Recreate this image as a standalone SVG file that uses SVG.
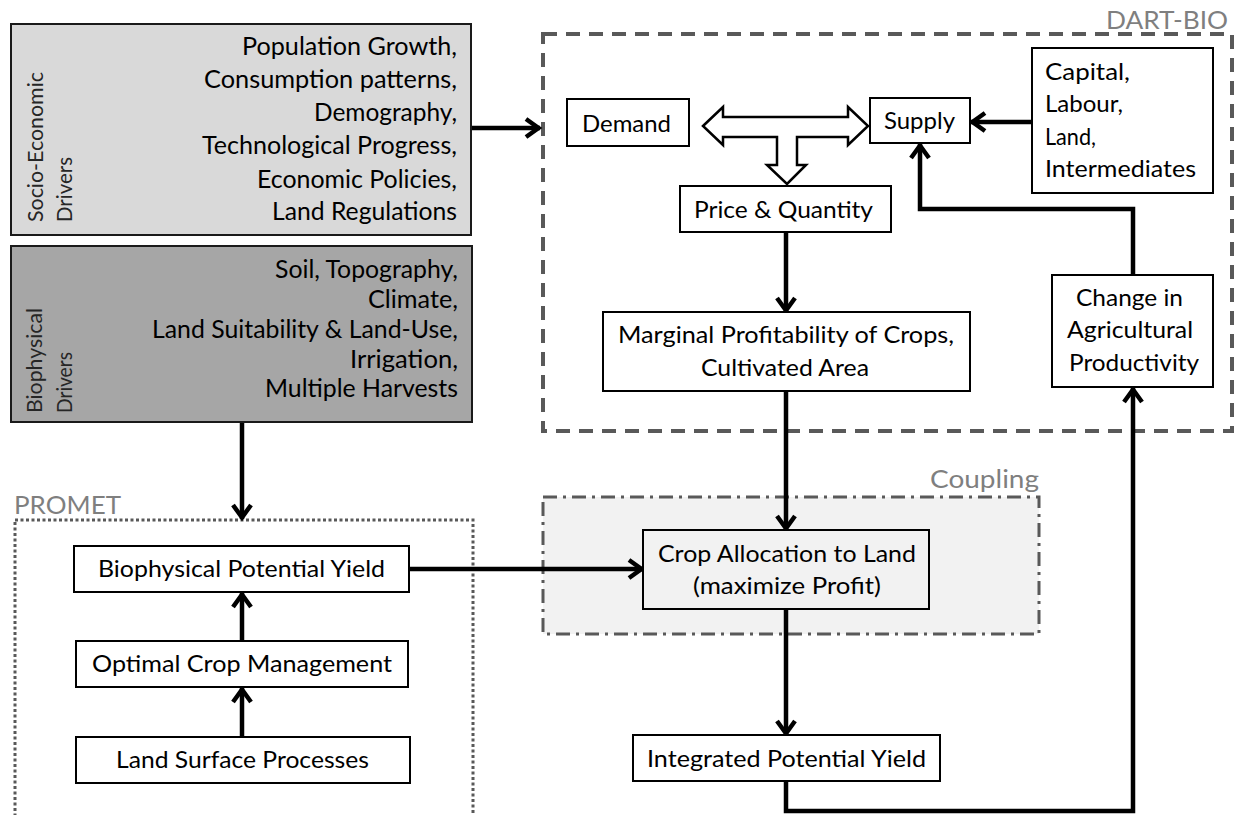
<svg xmlns="http://www.w3.org/2000/svg" width="1237" height="815" viewBox="0 0 1237 815">
<style>
text{font-family:Lato,"Open Sans","Liberation Sans",sans-serif;fill:#000}
.t{font-size:24px}
.l{font-size:25px}
.v{font-size:21px;fill:#262626}
.g{font-size:25px;fill:#7f7f7f}
.box{fill:#fff;stroke:#000;stroke-width:2}
.con{fill:none;stroke:#000;stroke-width:4.5;stroke-linejoin:miter}
</style>
<defs>
<marker id="ah" markerUnits="userSpaceOnUse" orient="auto" markerWidth="40" markerHeight="40" viewBox="-20 -20 40 40" refX="0" refY="0" overflow="visible">
<path d="M-14,-9 L-1.5,0 L-14,9" fill="none" stroke="#000" stroke-width="4.5"/>
</marker>
</defs>
<rect width="1237" height="815" fill="#fff"/>

<g id="dart-bio">
<rect x="543" y="34" width="689" height="397" fill="none" stroke="#595959" stroke-width="4" stroke-dasharray="14 9"/>
<text class="g" x="1106" y="29" textLength="122" lengthAdjust="spacingAndGlyphs">DART-BIO</text>
</g>
<g id="coupling">
<rect x="543" y="497" width="496" height="137" fill="#f2f2f2" stroke="#595959" stroke-width="3" stroke-dasharray="14 6 3 6"/>
<text class="g" x="930" y="488" textLength="109" lengthAdjust="spacingAndGlyphs">Coupling</text>
</g>
<g id="promet">
<rect x="15" y="520" width="458" height="320" fill="none" stroke="#595959" stroke-width="3" stroke-dasharray="3 2.5"/>
<text class="g" x="14" y="514" textLength="107" lengthAdjust="spacingAndGlyphs">PROMET</text>
</g>

<g id="connectors">
<path class="con" d="M471,128 L540,128" marker-end="url(#ah)"/>
<path class="con" d="M1032,122 L971,122" marker-end="url(#ah)"/>
<path class="con" d="M786,232 L786,312" marker-end="url(#ah)"/>
<path class="con" d="M786,391 L786,530" marker-end="url(#ah)"/>
<path class="con" d="M786,609 L786,735" marker-end="url(#ah)"/>
<path class="con" d="M786,781 L786,811 L1133,811 L1133,388" marker-end="url(#ah)"/>
<path class="con" d="M1133,275 L1133,209 L920,209 L920,144" marker-end="url(#ah)"/>
<path class="con" d="M242,423 L242,519" marker-end="url(#ah)"/>
<path class="con" d="M409,569 L643,569" marker-end="url(#ah)"/>
<path class="con" d="M242,641 L242,593" marker-end="url(#ah)"/>
<path class="con" d="M242,737 L242,688" marker-end="url(#ah)"/>
<polygon points="703,126 723,107 723,117 848,117 848,107 868,126 848,145 848,137 797,137 797,165 806,165 787,184 767,165 777,165 777,137 723,137 723,145" fill="#fff" stroke="#000" stroke-width="2.5" stroke-linejoin="miter"/>
</g>

<g id="socio-economic">
<rect x="11" y="24" width="460" height="211" fill="#d9d9d9" stroke="#1a1a1a" stroke-width="2"/>
<text class="l" x="242" y="55" textLength="215" lengthAdjust="spacingAndGlyphs">Population Growth,</text>
<text class="l" x="204" y="88" textLength="253" lengthAdjust="spacingAndGlyphs">Consumption patterns,</text>
<text class="l" x="314" y="121" textLength="143" lengthAdjust="spacingAndGlyphs">Demography,</text>
<text class="l" x="202" y="154" textLength="255" lengthAdjust="spacingAndGlyphs">Technological Progress,</text>
<text class="l" x="257" y="188" textLength="200" lengthAdjust="spacingAndGlyphs">Economic Policies,</text>
<text class="l" x="272" y="220" textLength="185" lengthAdjust="spacingAndGlyphs">Land Regulations</text>
<text class="v" transform="translate(43,222) rotate(-90)" textLength="150" lengthAdjust="spacingAndGlyphs">Socio-Economic</text>
<text class="v" transform="translate(72,222) rotate(-90)" textLength="65" lengthAdjust="spacingAndGlyphs">Drivers</text>
</g>

<g id="biophysical">
<rect x="11" y="246" width="461" height="176" fill="#a6a6a6" stroke="#1a1a1a" stroke-width="2"/>
<text class="l" x="275" y="278" textLength="183" lengthAdjust="spacingAndGlyphs">Soil, Topography,</text>
<text class="l" x="368" y="308" textLength="90" lengthAdjust="spacingAndGlyphs">Climate,</text>
<text class="l" x="152" y="338" textLength="306" lengthAdjust="spacingAndGlyphs">Land Suitability &amp; Land-Use,</text>
<text class="l" x="350" y="368" textLength="108" lengthAdjust="spacingAndGlyphs">Irrigation,</text>
<text class="l" x="265" y="397" textLength="193" lengthAdjust="spacingAndGlyphs">Multiple Harvests</text>
<text class="v" transform="translate(42,413) rotate(-90)" textLength="105" lengthAdjust="spacingAndGlyphs">Biophysical</text>
<text class="v" transform="translate(72,413) rotate(-90)" textLength="61" lengthAdjust="spacingAndGlyphs">Drivers</text>
</g>

<g id="demand">
<rect class="box" x="567" y="99" width="122" height="47"/>
<text class="t" x="582" y="132" textLength="89" lengthAdjust="spacingAndGlyphs">Demand</text>
</g>
<g id="supply">
<rect class="box" x="870" y="98" width="100" height="45"/>
<text class="t" x="884" y="129" textLength="71" lengthAdjust="spacingAndGlyphs">Supply</text>
</g>
<g id="factors">
<rect class="box" x="1032" y="48" width="181" height="145"/>
<text class="t" x="1045" y="80" textLength="85" lengthAdjust="spacingAndGlyphs">Capital,</text>
<text class="t" x="1045" y="112" textLength="78" lengthAdjust="spacingAndGlyphs">Labour,</text>
<text class="t" x="1045" y="145" textLength="51" lengthAdjust="spacingAndGlyphs">Land,</text>
<text class="t" x="1045" y="177" textLength="151" lengthAdjust="spacingAndGlyphs">Intermediates</text>
</g>
<g id="price-quantity">
<rect class="box" x="680" y="186" width="211" height="46"/>
<text class="t" x="694" y="218" textLength="179" lengthAdjust="spacingAndGlyphs">Price &amp; Quantity</text>
</g>
<g id="marginal">
<rect class="box" x="603" y="312" width="367" height="79"/>
<text class="t" x="618" y="343" textLength="336" lengthAdjust="spacingAndGlyphs">Marginal Profitability of Crops,</text>
<text class="t" x="701" y="376" textLength="168" lengthAdjust="spacingAndGlyphs">Cultivated Area</text>
</g>
<g id="change-productivity">
<rect class="box" x="1052" y="275" width="161" height="112"/>
<text class="t" x="1076" y="306" textLength="107" lengthAdjust="spacingAndGlyphs">Change in</text>
<text class="t" x="1067" y="338" textLength="126" lengthAdjust="spacingAndGlyphs">Agricultural</text>
<text class="t" x="1069" y="371" textLength="130" lengthAdjust="spacingAndGlyphs">Productivity</text>
</g>
<g id="crop-allocation">
<rect x="643" y="530" width="286" height="79" fill="#f2f2f2" stroke="#000" stroke-width="2"/>
<text class="t" x="658" y="562" textLength="258" lengthAdjust="spacingAndGlyphs">Crop Allocation to Land</text>
<text class="t" x="693" y="594" textLength="188" lengthAdjust="spacingAndGlyphs">(maximize Profit)</text>
</g>
<g id="integrated-yield">
<rect class="box" x="633" y="735" width="307" height="46"/>
<text class="t" x="647" y="767" textLength="279" lengthAdjust="spacingAndGlyphs">Integrated Potential Yield</text>
</g>
<g id="biophysical-yield">
<rect class="box" x="74" y="546" width="335" height="46"/>
<text class="t" x="98" y="577" textLength="287" lengthAdjust="spacingAndGlyphs">Biophysical Potential Yield</text>
</g>
<g id="crop-management">
<rect class="box" x="76" y="641" width="332" height="46"/>
<text class="t" x="92" y="672" textLength="300" lengthAdjust="spacingAndGlyphs">Optimal Crop Management</text>
</g>
<g id="land-surface">
<rect class="box" x="76" y="737" width="334" height="46"/>
<text class="t" x="116" y="768" textLength="253" lengthAdjust="spacingAndGlyphs">Land Surface Processes</text>
</g>
</svg>
